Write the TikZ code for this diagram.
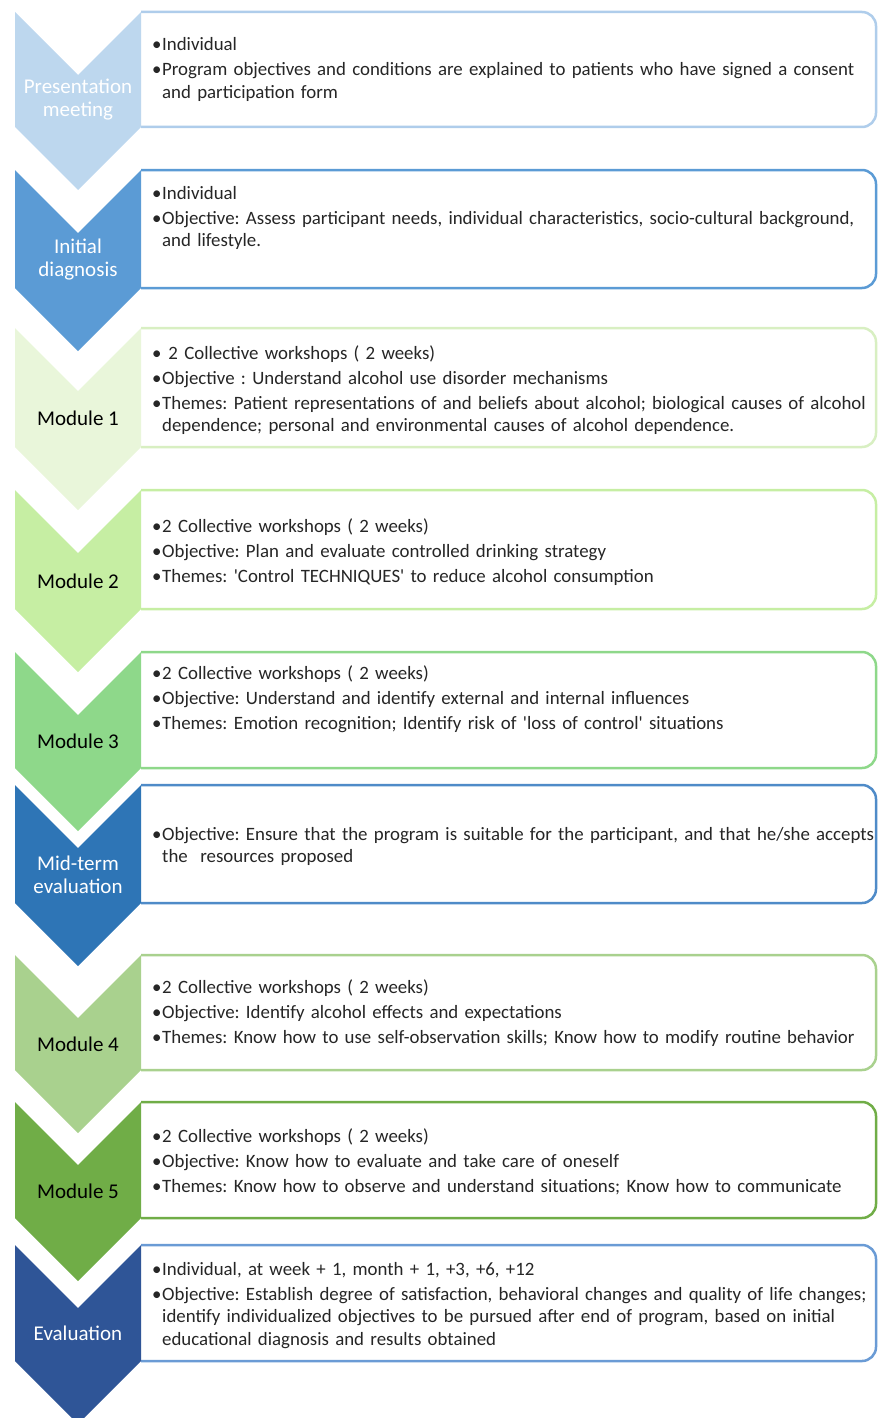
\documentclass[tikz,border=0pt]{standalone}
\usepackage{fontspec}
\setmainfont{Carlito}
\usetikzlibrary{positioning}

% chevron fills and box outlines
\definecolor{pmfill}{HTML}{BDD7EE}
\definecolor{pmline}{HTML}{AFCDEB}
\definecolor{idfill}{HTML}{5B9BD5}
\definecolor{mafill}{HTML}{E9F6DA}
\definecolor{maline}{HTML}{D8EFC2}
\definecolor{mbfill}{HTML}{C6EEA3}
\definecolor{mcfill}{HTML}{8ED88A}
\definecolor{mtfill}{HTML}{2E75B6}
\definecolor{mtline}{HTML}{4F8BC8}
\definecolor{mdfill}{HTML}{A9D18E}
\definecolor{mefill}{HTML}{70AD47}
\definecolor{evfill}{HTML}{2F5597}
\definecolor{evline}{HTML}{6A9BD5}

% bullet lines, wrapped lines hang under the text
\newcommand{\bulletline}{\hangindent=10pt\hangafter=1\noindent\makebox[10pt][l]{\textbullet}}
\newcommand{\itembullet}{\par\bulletline}

\begin{document}
\begin{tikzpicture}[x=1pt,y=-1pt,
    box/.style={draw=#1,line width=2.5pt,fill=white,rounded corners=14pt},
    stagename/.style={align=center,font=\fontsize{21}{23}\selectfont},
    items/.style={anchor=base west,inner sep=0pt,text width=760pt,align=left,
        text=black!85,font=\fontsize{18.85}{22.5}\selectfont\frenchspacing,
        execute at begin node={\setlength{\parskip}{2.5pt}}}]
    \useasboundingbox (0,0) rectangle (878,1418);

    % presentation meeting
    \draw[box=pmline] (141,12) -- (876,12) -- (876,127) -- (141,127);
    \fill[pmfill] (15,12) -- (78,75) -- (141,12) -- (141,127) -- (78,190) -- (15,127) -- cycle;
    \node[stagename,white] (pm) at (78,100) {Presentation\\meeting};
    \node[items] (pmtext) at (152,51) {\bulletline Individual
        \itembullet Program objectives and conditions are explained to patients who have signed a consent\newline and participation form\par};

    % initial diagnosis
    \draw[box=idfill] (141,170) -- (876,170) -- (876,288) -- (141,288);
    \fill[idfill] (15,170) -- (78,233) -- (141,170) -- (141,288) -- (78,351) -- (15,288) -- cycle;
    \node[stagename,white] (id) at (78,260) {Initial\\diagnosis};
    \node[items] (idtext) at (152,199) {\bulletline Individual
        \itembullet Objective: Assess participant needs, individual characteristics, socio-cultural background,\newline and lifestyle.\par};

    % module 1
    \draw[box=maline] (141,328) -- (876,328) -- (876,447) -- (141,447);
    \fill[mafill] (15,328) -- (78,391) -- (141,328) -- (141,447) -- (78,510) -- (15,447) -- cycle;
    \node[stagename] (ma) at (78,418) {Module 1};
    \node[items] (matext) at (152,359) {\bulletline\ 2 Collective workshops ( 2 weeks)
        \itembullet Objective : Understand alcohol use disorder mechanisms
        \itembullet Themes: Patient representations of and beliefs about alcohol; biological causes of alcohol\newline dependence; personal and environmental causes of alcohol dependence.\par};

    % module 2
    \draw[box=mbfill] (141,490) -- (876,490) -- (876,609) -- (141,609);
    \fill[mbfill] (15,490) -- (78,553) -- (141,490) -- (141,609) -- (78,672) -- (15,609) -- cycle;
    \node[stagename] (mb) at (78,581) {Module 2};
    \node[items] (mbtext) at (152,532) {\bulletline 2 Collective workshops ( 2 weeks)
        \itembullet Objective: Plan and evaluate controlled drinking strategy
        \itembullet Themes: \textquotesingle Control TECHNIQUES\textquotesingle\ to reduce alcohol consumption\par};

    % module 3
    \draw[box=mcfill] (141,652) -- (876,652) -- (876,768) -- (141,768);
    \fill[mcfill] (15,652) -- (78,715) -- (141,652) -- (141,768) -- (78,831) -- (15,768) -- cycle;
    \node[stagename] (mc) at (78,741) {Module 3};
    \node[items] (mctext) at (152,679) {\bulletline 2 Collective workshops ( 2 weeks)
        \itembullet Objective: Understand and identify external and internal influences
        \itembullet Themes: Emotion recognition; Identify risk of \textquotesingle loss of control\textquotesingle\ situations\par};

    % mid-term evaluation
    \draw[box=mtline] (141,785) -- (876,785) -- (876,903) -- (141,903);
    \fill[mtfill] (15,785) -- (78,848) -- (141,785) -- (141,903) -- (78,966) -- (15,903) -- cycle;
    \node[stagename,white] (mt) at (78,875) {Mid-term\\evaluation};
    \node[items] (mttext) at (152,840) {\bulletline Objective: Ensure that the program is suitable for the participant, and that he/she accepts\newline the\ \ resources proposed\par};

    % module 4
    \draw[box=mdfill] (141,955) -- (876,955) -- (876,1070) -- (141,1070);
    \fill[mdfill] (15,955) -- (78,1018) -- (141,955) -- (141,1070) -- (78,1133) -- (15,1070) -- cycle;
    \node[stagename] (md) at (78,1044) {Module 4};
    \node[items] (mdtext) at (152,993) {\bulletline 2 Collective workshops ( 2 weeks)
        \itembullet Objective: Identify alcohol effects and expectations
        \itembullet Themes: Know how to use self-observation skills; Know how to modify routine behavior\par};

    % module 5
    \draw[box=mefill] (141,1102) -- (876,1102) -- (876,1218) -- (141,1218);
    \fill[mefill] (15,1102) -- (78,1165) -- (141,1102) -- (141,1218) -- (78,1281) -- (15,1218) -- cycle;
    \node[stagename] (me) at (78,1191) {Module 5};
    \node[items] (metext) at (152,1142) {\bulletline 2 Collective workshops ( 2 weeks)
        \itembullet Objective: Know how to evaluate and take care of oneself
        \itembullet Themes: Know how to observe and understand situations; Know how to communicate\par};

    % evaluation
    \draw[box=evline] (141,1245) -- (876,1245) -- (876,1361) -- (141,1361);
    \fill[evfill] (15,1245) -- (78,1308) -- (141,1245) -- (141,1361) -- (78,1424) -- (15,1361) -- cycle;
    \node[stagename,white] (ev) at (78,1333) {Evaluation};
    \node[items] (evtext) at (152,1275) {\bulletline Individual, at week + 1, month + 1, +3, +6, +12
        \itembullet Objective: Establish degree of satisfaction, behavioral changes and quality of life changes;\newline identify individualized objectives to be pursued after end of program, based on initial\newline educational diagnosis and results obtained\par};
\end{tikzpicture}
\end{document}
